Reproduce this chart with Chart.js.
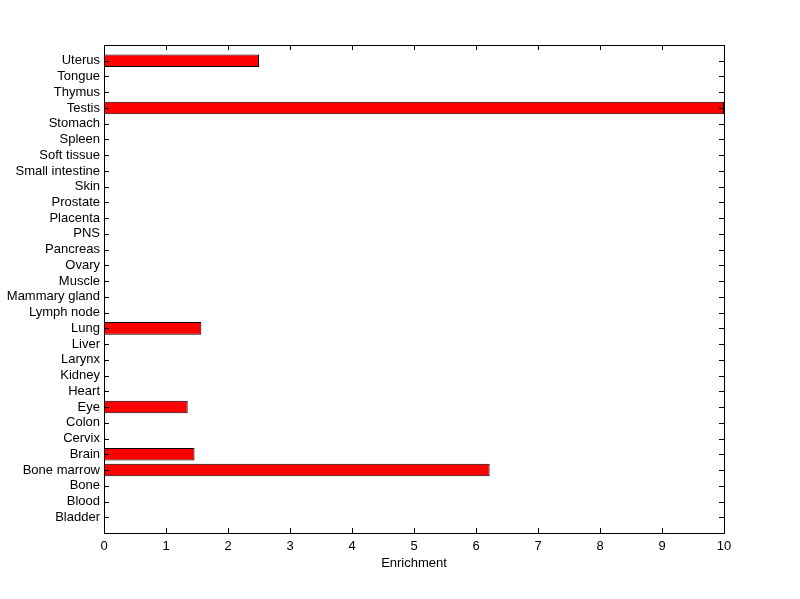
<!DOCTYPE html>
<html>
<head>
<meta charset="utf-8">
<script src="https://cdn.jsdelivr.net/npm/chart.js@4"></script>
<style>
  html, body { margin: 0; padding: 0; background: #fff; }
  #wrap { width: 800px; height: 599px; }
</style>
</head>
<body>
<div id="wrap"><canvas id="c" width="800" height="599"></canvas></div>
<script>
// tissues, bottom to top
const tissues = [
  'Bladder', 'Blood', 'Bone', 'Bone marrow', 'Brain', 'Cervix', 'Colon', 'Eye',
  'Heart', 'Kidney', 'Larynx', 'Liver', 'Lung', 'Lymph node', 'Mammary gland',
  'Muscle', 'Ovary', 'Pancreas', 'PNS', 'Placenta', 'Prostate', 'Skin',
  'Small intestine', 'Soft tissue', 'Spleen', 'Stomach', 'Testis', 'Thymus',
  'Tongue', 'Uterus'
];
const enrichment = [
  0, 0, 0, 6.22, 1.46, 0, 0, 1.35,
  0, 0, 0, 0, 1.57, 0, 0,
  0, 0, 0, 0, 0, 0, 0,
  0, 0, 0, 0, 10, 0,
  0, 2.5
];
const x_ticks = [0, 1, 2, 3, 4, 5, 6, 7, 8, 9, 10];

const FONT = { family: 'Liberation Sans, Arial, sans-serif', size: 13 };

// matlab style box + inward tick marks
const box_plugin = {
  id: 'box',
  afterDraw(chart) {
    const ctx = chart.ctx;
    const a = chart.chartArea;
    const xs = chart.scales.x, ys = chart.scales.y;
    const len = 5;
    ctx.save();
    ctx.strokeStyle = '#000';
    ctx.lineWidth = 1;
    ctx.beginPath();
    x_ticks.forEach(v => {
      const px = Math.round(xs.getPixelForValue(v)) + 0.5;
      ctx.moveTo(px, a.bottom); ctx.lineTo(px, a.bottom - len);
      ctx.moveTo(px, a.top); ctx.lineTo(px, a.top + len);
    });
    tissues.forEach((t, i) => {
      const py = Math.round(ys.getPixelForValue(i + 1)) + 0.5;
      ctx.moveTo(a.left, py); ctx.lineTo(a.left + len, py);
      ctx.moveTo(a.right, py); ctx.lineTo(a.right - len, py);
    });
    ctx.stroke();
    ctx.strokeRect(Math.round(a.left) + 0.5, Math.round(a.top) + 0.5,
                   Math.round(a.right - a.left), Math.round(a.bottom - a.top));
    ctx.restore();
  }
};

new Chart(document.getElementById('c').getContext('2d'), {
  type: 'bar',
  data: {
    datasets: [{
      data: enrichment.map((v, i) => ({ x: v, y: i + 1 })),
      backgroundColor: '#ff0000',
      borderColor: '#000',
      borderWidth: 1,
      borderSkipped: false,
      barPercentage: 0.8,
      categoryPercentage: 1
    }]
  },
  options: {
    indexAxis: 'y',
    responsive: false,
    animation: false,
    devicePixelRatio: 1,
    layout: { padding: { left: 0, top: 45, right: 76, bottom: 28 } },
    plugins: { legend: { display: false }, tooltip: { enabled: false } },
    scales: {
      x: {
        type: 'linear',
        min: 0, max: 10,
        offset: false,
        grid: { display: false, drawTicks: false },
        border: { display: false },
        afterBuildTicks: s => { s.ticks = x_ticks.map(v => ({ value: v })); },
        afterFit: s => { s.height = 38; },
        ticks: { color: '#000', font: FONT, padding: 6, maxRotation: 0 },
        title: { display: true, text: 'Enrichment', color: '#000', font: FONT, padding: 0 }
      },
      y: {
        type: 'linear',
        min: 0, max: 31,
        offset: false,
        grid: { display: false, drawTicks: false },
        border: { display: false },
        afterBuildTicks: s => { s.ticks = tissues.map((t, i) => ({ value: i + 1 })); },
        afterFit: s => { s.width = 104; },
        ticks: {
          color: '#000', font: FONT, padding: 4, autoSkip: false,
          callback: v => tissues[v - 1] || ''
        }
      }
    }
  },
  plugins: [box_plugin]
});
</script>
</body>
</html>
